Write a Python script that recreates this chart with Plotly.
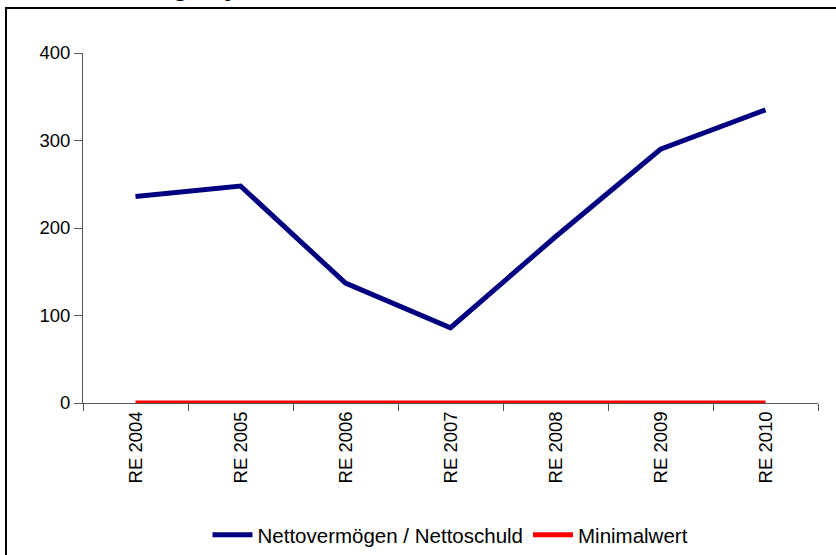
import plotly.graph_objects as go

categories = ["RE 2004", "RE 2005", "RE 2006", "RE 2007", "RE 2008", "RE 2009", "RE 2010"]
netto = [236, 248, 137, 86, 190, 290, 335]
minimal = [0, 0, 0, 0, 0, 0, 0]
y_ticks = [0, 100, 200, 300, 400]

W, H = 836, 555
L, R, T, B = 83, 18, 53, 152
pw, ph = W - L - R, H - T - B

def px_x(px):
    return (px - L) / pw

def px_y(py):
    return (H - B - py) / ph

fig = go.Figure()
fig.add_trace(go.Scatter(x=categories, y=netto, mode="lines", name="Nettovermögen / Nettoschuld",
                         line=dict(color="#000080", width=5)))
fig.add_trace(go.Scatter(x=categories, y=minimal, mode="lines", name="Minimalwert",
                         line=dict(color="#FF0000", width=5)))

font = "Arial, 'Liberation Sans', sans-serif"
fig.update_layout(
    width=W, height=H,
    margin=dict(l=L, r=R, t=T, b=B, autoexpand=False),
    paper_bgcolor="white", plot_bgcolor="white",
    font=dict(family=font, size=18, color="black"),
    showlegend=True,
    legend=dict(orientation="h", x=0.5, xanchor="center", y=px_y(535), yanchor="middle",
                font=dict(size=20.5), itemwidth=40, tracegroupgap=0),
    xaxis=dict(showline=True, linecolor="#555", linewidth=1, ticks="outside", ticklen=7,
               tickcolor="#555", tickson="boundaries", tickangle=-90, showgrid=False,
               zeroline=False, range=[-0.5, 6.5], fixedrange=True,
               tickfont=dict(size=18.5)),
    yaxis=dict(showline=True, linecolor="#555", linewidth=1, ticks="outside", ticklen=8,
               tickcolor="#555", tickvals=y_ticks, range=[0, 400], showgrid=False,
               zeroline=False, fixedrange=True, tickfont=dict(size=18.5)),
    shapes=[dict(type="rect", xref="paper", yref="paper",
                 x0=px_x(6), x1=px_x(845), y0=px_y(565), y1=px_y(8),
                 line=dict(color="black", width=2), layer="below")],
    annotations=[dict(text="<b>Nettovermögen je Einwohner</b>", xref="paper", yref="paper",
                      x=px_x(26), y=px_y(4), xanchor="left", yanchor="bottom",
                      showarrow=False, font=dict(size=26, color="black"))],
)

fig.write_html("out.html", config={"displayModeBar": False},
               post_script="document.body.style.margin='0';")
